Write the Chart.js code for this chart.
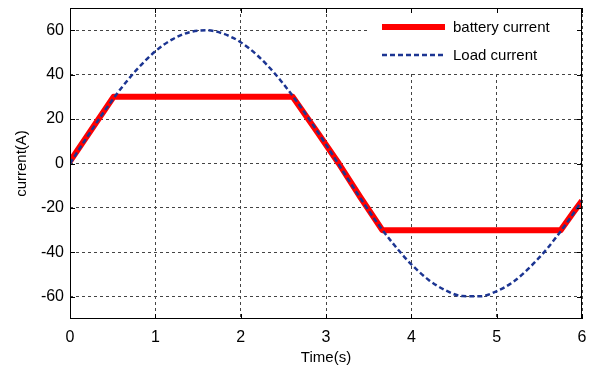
<!DOCTYPE html>
<html lang="en">
<head>
<meta charset="UTF-8">
<title>Battery and load current</title>
<script src="https://cdn.jsdelivr.net/npm/chart.js@4/dist/chart.umd.min.js"></script>
<style>
  body { margin: 0; background: #fff; }
  #wrap { width: 592px; height: 370px; }
</style>
</head>
<body>
<div id="wrap"><canvas id="myChart" width="592" height="370"></canvas></div>
<script>
// load current, sampled every 0.2 s
var loadTime = [0, 0.2, 0.4, 0.6, 0.8, 1.0, 1.2, 1.4, 1.6, 1.8, 2.0, 2.2, 2.4, 2.6, 2.8, 3.0,
                3.2, 3.4, 3.6, 3.8, 4.0, 4.2, 4.4, 4.6, 4.8, 5.0, 5.2, 5.4, 5.6, 5.8, 6.0];
var loadCurrent = [0, 11.9, 23.4, 33.9, 43, 50.5, 55.9, 59.1, 60, 58.4, 54.6, 48.5, 40.5, 30.9, 20.1, 8.5,
                   -3.5, -15.4, -26.7, -36.7, -45.4, -52.3, -57.1, -59.7, -59.8, -57.5, -53.1, -46.3, -37.9, -27.9, -16.8];

// battery current, limited to +/-30 A
var batteryTime = [0, 0.51, 2.61, 2.9, 3.15, 3.4, 3.66, 5.75, 5.9, 6];
var batteryCurrent = [1, 30, 30, 14, 0, -15, -30, -30, -22, -16.8];

var xTicks = [0, 1, 2, 3, 4, 5, 6];
var yTicks = [-60, -40, -20, 0, 20, 40, 60];

var FONT = "'Liberation Sans', Arial, sans-serif";

function toPoints(xs, ys) {
  var pts = [];
  for (var i = 0; i < xs.length; i++) pts.push({ x: xs[i], y: ys[i] });
  return pts;
}

// legend box in the upper right corner of the plot
var boxLegend = {
  id: 'boxLegend',
  afterDatasetsDraw: function (chart) {
    var ctx = chart.ctx, a = chart.chartArea;
    var x0 = 368, y0 = a.top, x1 = a.right, y1 = 73;
    ctx.save();
    ctx.fillStyle = '#fff';
    ctx.fillRect(x0, y0, x1 - x0, y1 - y0);
    var rows = [chart.data.datasets[0], chart.data.datasets[1]];
    var ys = [27, 55];
    ctx.font = '15px ' + FONT;
    ctx.textBaseline = 'middle';
    rows.forEach(function (ds, i) {
      ctx.beginPath();
      ctx.strokeStyle = ds.borderColor;
      ctx.lineWidth = ds.borderWidth;
      ctx.setLineDash(ds.borderDash || []);
      ctx.moveTo(382, ys[i]);
      ctx.lineTo(445, ys[i]);
      ctx.stroke();
      ctx.setLineDash([]);
      ctx.fillStyle = '#000';
      ctx.fillText(ds.label, 453, ys[i] + 1);
    });
    ctx.restore();
  }
};

// box around the plot with small inward tick marks on all four sides
var frame = {
  id: 'frame',
  afterDraw: function (chart) {
    var ctx = chart.ctx, a = chart.chartArea;
    var xs = chart.scales.x, ys = chart.scales.y;
    ctx.save();
    ctx.strokeStyle = '#000';
    ctx.lineWidth = 1;
    ctx.strokeRect(a.left + 0.5, a.top + 0.5, a.right - a.left - 1, a.bottom - a.top - 1);
    ctx.beginPath();
    xTicks.forEach(function (v) {
      var px = Math.round(xs.getPixelForValue(v)) + 0.5;
      ctx.moveTo(px, a.top); ctx.lineTo(px, a.top + 5);
      ctx.moveTo(px, a.bottom); ctx.lineTo(px, a.bottom - 5);
    });
    yTicks.forEach(function (v) {
      var py = Math.round(ys.getPixelForValue(v)) + 0.5;
      ctx.moveTo(a.left, py); ctx.lineTo(a.left + 5, py);
      ctx.moveTo(a.right, py); ctx.lineTo(a.right - 5, py);
    });
    ctx.stroke();
    ctx.restore();
  }
};

var ctx = document.getElementById('myChart').getContext('2d');
var myChart = new Chart(ctx, {
  type: 'line',
  data: {
    datasets: [{
      label: 'battery current',
      data: toPoints(batteryTime, batteryCurrent),
      borderColor: '#ff0000',
      borderWidth: 6,
      borderJoinStyle: 'round',
      pointRadius: 0,
      tension: 0,
      order: 1
    }, {
      label: 'Load current',
      data: toPoints(loadTime, loadCurrent),
      borderColor: '#1c3592',
      borderWidth: 2.5,
      borderDash: [5, 3],
      pointRadius: 0,
      cubicInterpolationMode: 'monotone',
      order: 0
    }]
  },
  options: {
    responsive: false,
    animation: false,
    layout: { padding: { top: 8, right: 10, left: 0, bottom: 0 } },
    plugins: {
      legend: { display: false },
      tooltip: { enabled: false }
    },
    scales: {
      x: {
        type: 'linear',
        min: 0,
        max: 6,
        afterBuildTicks: function (s) { s.ticks = xTicks.map(function (v) { return { value: v }; }); },
        afterFit: function (s) { s.height = 51; s.paddingLeft = 0; s.paddingRight = 0; },
        grid: { color: '#444', lineWidth: 1, drawTicks: false },
        border: { display: false, dash: [3, 3] },
        ticks: { color: '#000', font: { family: FONT, size: 16 }, padding: 9, maxRotation: 0 },
        title: { display: true, text: 'Time(s)', color: '#000', font: { family: FONT, size: 15 }, padding: { top: 0, bottom: 3 } }
      },
      y: {
        min: -70,
        max: 70,
        afterBuildTicks: function (s) { s.ticks = yTicks.map(function (v) { return { value: v }; }); },
        afterFit: function (s) { s.width = 70; s.paddingTop = 0; s.paddingBottom = 0; },
        grid: { color: '#444', lineWidth: 1, drawTicks: false },
        border: { display: false, dash: [3, 3] },
        ticks: { color: '#000', font: { family: FONT, size: 16 }, padding: 6 },
        title: { display: true, text: 'current(A)', color: '#000', font: { family: FONT, size: 15 }, padding: { top: 13, bottom: 0 } }
      }
    }
  },
  plugins: [boxLegend, frame]
});
</script>
</body>
</html>
